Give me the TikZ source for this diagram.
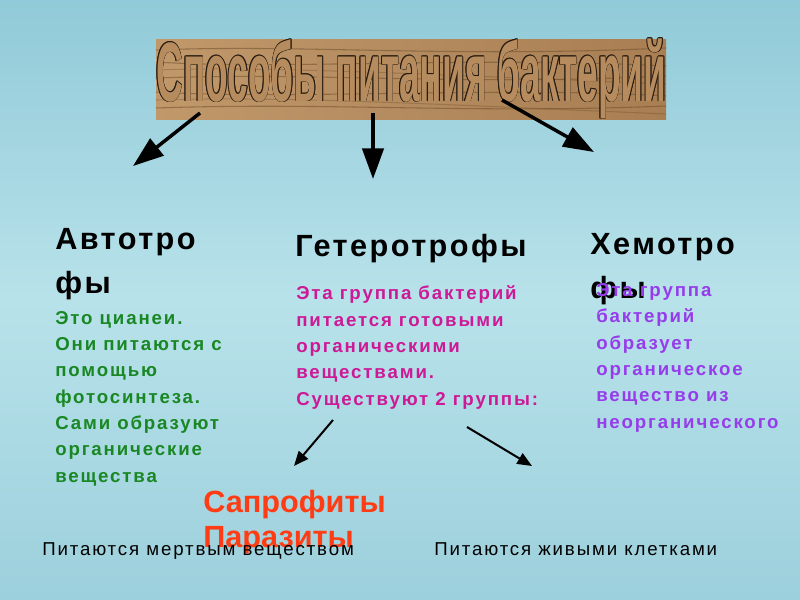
\documentclass[tikz,border=0pt]{standalone}
\usepackage{fontspec}
\setmainfont{Liberation Sans}
\newfontfamily\lsfont[LetterSpace=8]{Liberation Sans}
\newfontfamily\bodyfont[LetterSpace=10]{Liberation Sans}
\newfontfamily\titlefont{Liberation Sans}
\usetikzlibrary{arrows.meta}
\definecolor{watertop}{RGB}{145,202,216}
\definecolor{watermid}{RGB}{184,226,234}
\definecolor{waterbot}{RGB}{156,208,220}
\definecolor{woodA}{RGB}{192,152,106}
\definecolor{woodB}{RGB}{168,126,82}
\definecolor{woodC}{RGB}{182,140,94}
\definecolor{grain}{RGB}{112,78,44}
\definecolor{titleink}{RGB}{40,28,18}
\definecolor{autogreen}{RGB}{25,135,35}
\definecolor{hetmagenta}{RGB}{205,25,150}
\definecolor{chempurple}{RGB}{150,60,235}
\definecolor{sapred}{RGB}{255,60,20}
\newcommand{\titletext}{\resizebox{382.5pt}{47pt}{\titlefont\bfseries Способы питания бактерий}}
\tikzset{
  bigarrow/.style={line width=2.6pt,-{Triangle[length=23pt,width=16pt]}},
  smallarrow/.style={line width=1.5pt,-{Triangle[length=11pt,width=9pt]}},
  heading/.style={anchor=base west,inner sep=0pt,align=left,font=\lsfont\bfseries\fontsize{23}{33}\selectfont},
  groupname/.style={anchor=base west,inner sep=0pt,font=\titlefont\bfseries\fontsize{23}{33}\selectfont,text=sapred},
  body/.style={anchor=base west,inner sep=0pt,align=left,font=\bodyfont\bfseries\fontsize{14}{19.7}\selectfont},
  foot/.style={anchor=base west,inner sep=0pt,font=\bodyfont\fontsize{14}{16}\selectfont},
  grainline/.style={grain,opacity=0.55,line width=0.8pt},
  titleedge/.style={anchor=base west,inner sep=0pt,text=titleink}
}
\begin{document}
\begin{tikzpicture}[x=0.75pt,y=-0.75pt]
\useasboundingbox (0,0) rectangle (800,600);
% water background
\shade[top color=watertop,bottom color=waterbot,middle color=watermid] (0,0) rectangle (800,600);
% wooden board
\shade[left color=woodA,right color=woodB] (156,39) rectangle (666,119);
\draw[grainline] (156,50) .. controls (300,44) and (450,58) .. (666,48);
\draw[grainline] (156,62) .. controls (280,70) and (480,56) .. (666,66);
\draw[grainline] (156,78) .. controls (320,72) and (460,86) .. (666,76);
\draw[grainline] (156,92) .. controls (300,100) and (500,86) .. (666,96);
\draw[grainline] (156,108) .. controls (330,102) and (470,114) .. (666,106);
\draw[grainline,opacity=0.35] (156,70) .. controls (260,66) and (420,74) .. (666,84);
\draw[grainline,opacity=0.35] (156,100) .. controls (280,96) and (430,104) .. (666,114);
% title: outlined letters
\foreach \dx/\dy [count=\k] in {-0.7/0,0.7/0,0/-0.7,0/0.7,-0.5/-0.5,0.5/0.5,-0.5/0.5,0.5/-0.5}
  \node[titleedge] (titleedge\k) at (156+\dx,101+\dy) {\titletext};
\node[anchor=base west,inner sep=0pt,text=woodC] (title) at (156,101) {\titletext};
% main arrows
\coordinate (a1s) at (200,113); \coordinate (a1e) at (133,166);
\coordinate (a2s) at (373,113); \coordinate (a2e) at (373,179);
\coordinate (a3s) at (502,100); \coordinate (a3e) at (594,152);
\draw[bigarrow] (a1s) -- (a1e);
\draw[bigarrow] (a2s) -- (a2e);
\draw[bigarrow] (a3s) -- (a3e);
% headings (base anchor = last line's baseline)
\node[heading] (auto) at (55,293) {Автотро\\фы};
\node[heading] (hetero) at (295,256) {Гетеротрофы};
\node[heading] (chemo) at (590,298) {Хемотро\\фы};
% body texts
\node[body,text=autogreen] (autotext) at (55,482) {Это цианеи.\\Они питаются с\\помощью\\фотосинтеза.\\Сами образуют\\органические\\вещества};
\node[body,text=hetmagenta] (heterotext) at (296,405) {Эта группа бактерий\\питается готовыми\\органическими\\веществами.\\Существуют 2 группы:};
\node[body,text=chempurple] (chemotext) at (596,428) {Эта группа\\бактерий\\образует\\органическое\\вещество из\\неорганического};
% small arrows
\coordinate (b1s) at (333,420); \coordinate (b1e) at (294,466);
\coordinate (b2s) at (467,427); \coordinate (b2e) at (532,466);
\draw[smallarrow] (b1s) -- (b1e);
\draw[smallarrow] (b2s) -- (b2e);
% groups
\node[groupname] (sapro) at (203,512) {Сапрофиты};
\node[groupname] (para) at (203,547) {Паразиты};
\node[foot] (deadfood) at (42,555) {Питаются мертвым веществом};
\node[foot] (livefood) at (434,555) {Питаются живыми клетками};
\end{tikzpicture}
\end{document}
